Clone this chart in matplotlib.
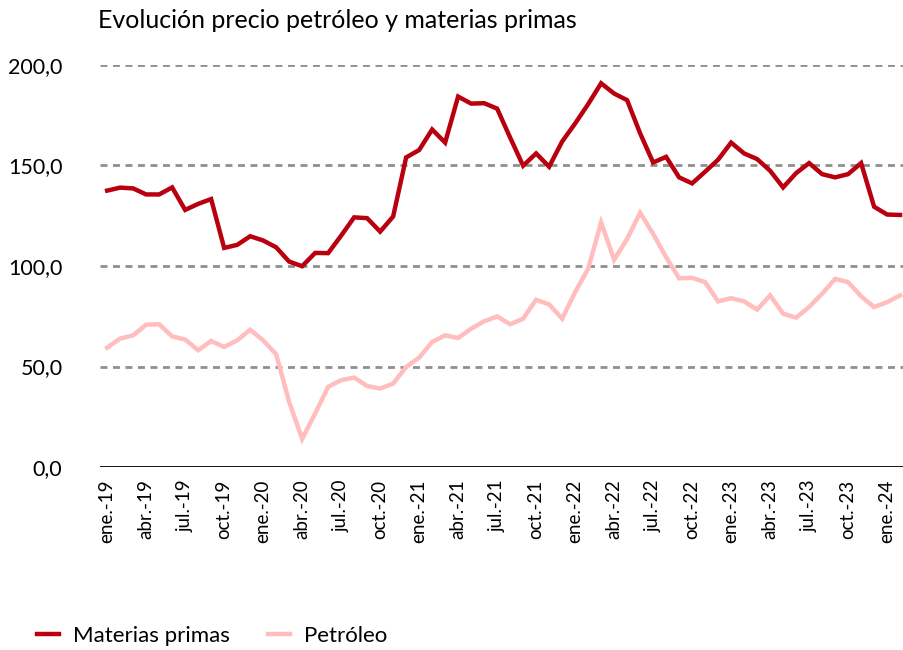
import numpy as np
import matplotlib
matplotlib.use('Agg')
import matplotlib.pyplot as plt
from matplotlib.lines import Line2D

plt.rcParams.update({'font.family': ['Lato', 'DejaVu Sans'], 'font.size': 13})

# monthly, ene-19 .. feb-24
meses = ['ene.', 'feb.', 'mar.', 'abr.', 'may.', 'jun.',
         'jul.', 'ago.', 'sep.', 'oct.', 'nov.', 'dic.']
fechas = [f'{meses[i % 12]}-{19 + i // 12}' for i in range(62)]

materias = [137.5, 139.0, 138.6, 135.6, 135.6, 139.1, 127.9, 130.9, 133.3, 109.0,
            110.5, 114.8, 112.7, 109.3, 102.2, 99.9, 106.5, 106.4, 115.1, 124.2,
            123.8, 117.1, 124.6, 154.0, 157.7, 167.9, 161.4, 184.3, 180.8, 181.0,
            178.3, 163.9, 149.9, 156.0, 149.4, 161.9, 170.9, 180.5, 190.9, 185.8,
            182.5, 166.0, 151.5, 154.3, 144.1, 141.1, 146.9, 152.9, 161.4, 156.0,
            153.2, 147.4, 139.1, 146.2, 151.2, 145.7, 144.1, 145.7, 151.2, 129.5,
            125.6, 125.4]

petroleo = [59.4, 63.9, 65.5, 70.8, 71.0, 65.0, 63.4, 58.1, 62.7, 59.7,
            63.0, 68.3, 63.0, 56.1, 32.4, 14.0, 26.6, 39.9, 43.2, 44.5,
            40.3, 39.0, 41.5, 49.8, 54.4, 62.2, 65.5, 64.2, 68.8, 72.5,
            74.9, 71.0, 73.8, 83.2, 80.9, 73.8, 87.0, 98.6, 121.7, 103.1,
            113.5, 126.5, 116.0, 104.4, 93.9, 94.1, 92.0, 82.4, 84.0, 82.4,
            78.3, 85.4, 76.3, 74.3, 79.6, 86.2, 93.6, 92.0, 84.9, 79.6,
            82.0, 85.4]

x = np.arange(len(fechas))

fig = plt.figure(figsize=(9.04, 6.5), dpi=100)
ax = fig.add_axes([100 / 904, 1 - 467 / 650, 804 / 904, 402 / 650])

for v in [50, 100, 150, 200]:
    ax.axhline(v, color='#8f8f8f', lw=2, ls=(0, (2.5, 2)), zorder=1)
ax.axhline(0, color='black', lw=2, zorder=3)

ax.plot(x, petroleo, color='#FFBDBD', lw=3.2, solid_joinstyle='miter', zorder=2)
ax.plot(x, materias, color='#B8000F', lw=3.2, solid_joinstyle='miter', zorder=2)

ax.set_xlim(-0.55, 61.3)
ax.set_ylim(0, 200)
ax.set_yticks([0, 50, 100, 150, 200])
ax.set_yticklabels([f'{v:.1f}'.replace('.', ',') for v in [0, 50, 100, 150, 200]])
ax.set_xticks(x[::3])
ax.set_xticklabels(fechas[::3], rotation=90)
ax.tick_params(axis='both', length=0, colors='black')
ax.tick_params(axis='y', pad=27, labelsize=15.5)
ax.tick_params(axis='x', pad=9, labelsize=13.5)
for s in ax.spines.values():
    s.set_visible(False)

fig.text(98 / 904, 1 - 21 / 650, 'Evolución precio petróleo y materias primas',
         fontsize=18, va='center', ha='left')

handles = [Line2D([], [], color='#B8000F', lw=3.2),
           Line2D([], [], color='#FFBDBD', lw=3.2)]
fig.legend(handles, ['Materias primas', 'Petróleo'], loc='center left',
           bbox_to_anchor=(37 / 904, 1 - 636 / 650), ncol=2, frameon=False,
           fontsize=16, handlelength=1.0, columnspacing=1.7, handletextpad=0.63,
           borderpad=0, borderaxespad=0)

fig.savefig('out.png', dpi=100)
